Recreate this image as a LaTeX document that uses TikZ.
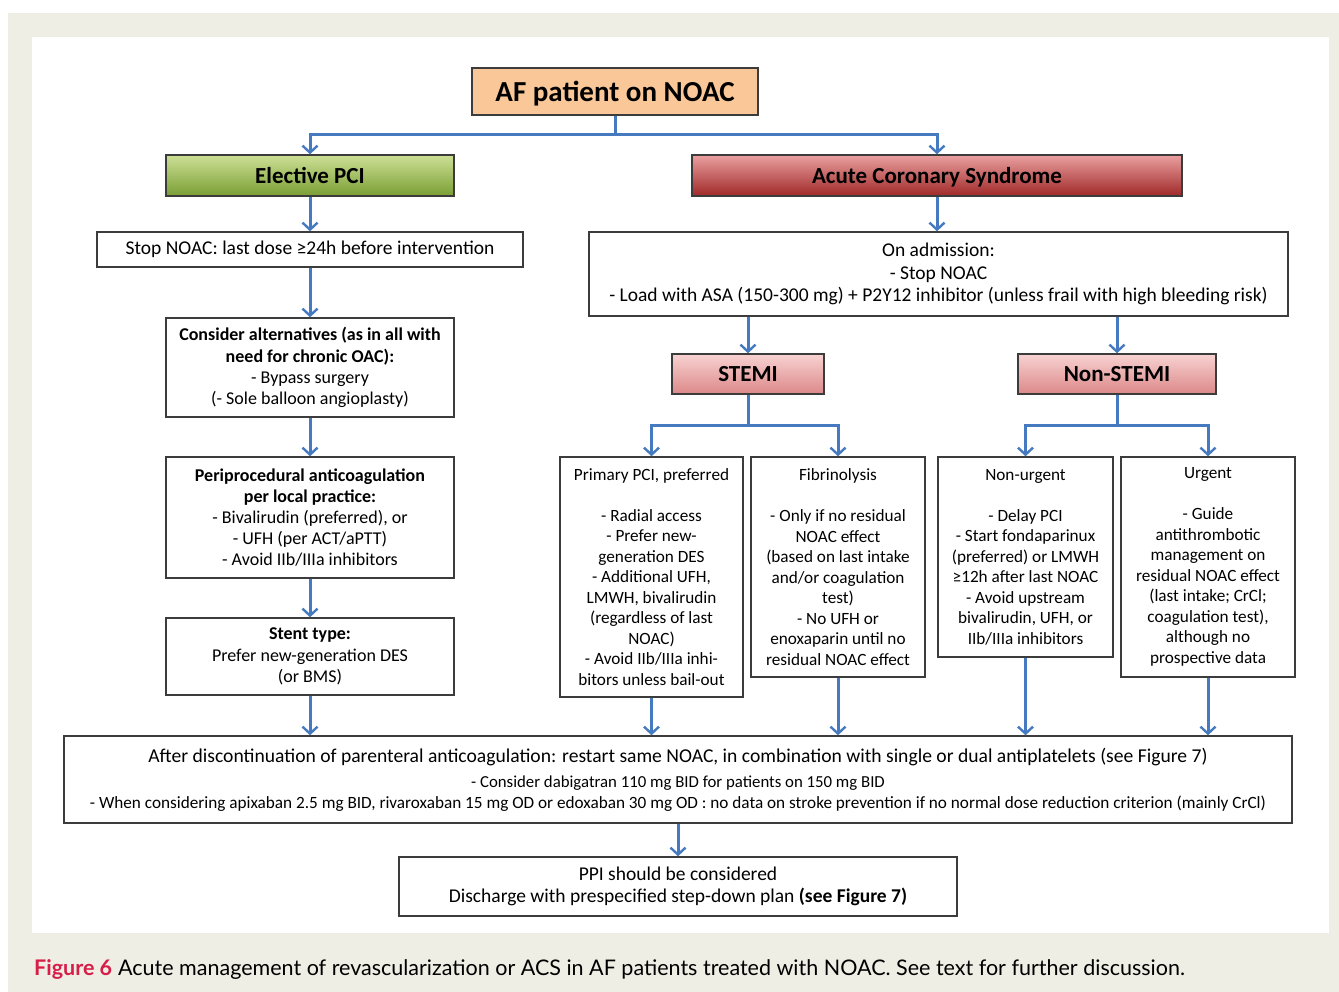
\documentclass[tikz,border=0pt]{standalone}
\usepackage{fontspec}
\setmainfont{Carlito}
\newfontfamily\capfont{Lato}
\usetikzlibrary{arrows.meta}
\definecolor{arrowblue}{RGB}{70,122,192}
\definecolor{pagebeige}{RGB}{239,238,228}
\definecolor{boxline}{RGB}{60,60,60}
\definecolor{figred}{RGB}{214,30,72}
\newcommand{\bodyfont}{\fontsize{17.2}{20.5}\selectfont}
\newcommand{\leftfont}{\fontsize{18}{21.2}\selectfont}
\newcommand{\bigfont}{\fontsize{19.5}{22.5}\selectfont}

\begin{document}
\begin{tikzpicture}[x=1pt,y=-1pt,
    textbox/.style ={draw=boxline, line width=1.4pt, fill=white, inner sep=0pt,
                     align=center, font=\bodyfont},
    headbox/.style ={draw=boxline, line width=1.4pt, inner sep=0pt, text depth=0pt,
                     font=\fontsize{23}{27}\selectfont\bfseries},
    flow/.style ={draw=arrowblue, line width=3pt},
    flowarrow/.style ={flow, -{Straight Barb[length=7pt,width=15pt,line width=2.4pt]}}]
   \useasboundingbox (0,0) rectangle (1339,992);
   \fill[pagebeige] (8,13) rectangle (1339,992);
   \fill[white] (32,37) rectangle (1329,933);

   \node[headbox, fill={rgb,255:red,250;green,200;blue,152}, minimum width=286, minimum height=47,
         font=\fontsize{29}{33}\selectfont\bfseries] (AF) at (615,91.5) {AF patient on NOAC};
   \node[headbox, top color={rgb,255:red,205;green,224;blue,150}, bottom color={rgb,255:red,122;green,158;blue,52},
         minimum width=288, minimum height=41] (PCI) at (310,175.5) {Elective PCI};
   \node[headbox, top color={rgb,255:red,234;green,160;blue,160}, bottom color={rgb,255:red,160;green,40;blue,40},
         minimum width=490, minimum height=41] (ACS) at (937,175.5) {Acute Coronary Syndrome};

   \node[textbox, minimum width=426, minimum height=35, font=\bigfont] (Stop) at (310,249.5)
     {Stop NOAC: last dose ≥24h before intervention};
   \node[textbox, minimum width=288, minimum height=99, font=\leftfont] (Alt) at (310,367.5)
     {\textbf{Consider alternatives (as in all with}\\\textbf{need for chronic OAC):}\\- Bypass surgery\\(- Sole balloon angioplasty)};
   \node[textbox, minimum width=288, minimum height=121, font=\leftfont] (Peri) at (310,517.5)
     {\textbf{Periprocedural anticoagulation}\\\textbf{per local practice:}\\- Bivalirudin (preferred), or\\- UFH (per ACT/aPTT)\\- Avoid IIb/IIIa inhibitors};
   \node[textbox, minimum width=288, minimum height=77, font=\leftfont] (Stent) at (310,656.5)
     {\textbf{Stent type:}\\Prefer new-generation DES\\(or BMS)};

   \node[textbox, minimum width=699, minimum height=84, font=\bigfont] (Adm) at (938.5,274)
     {On admission:\\- Stop NOAC\\- Load with ASA (150-300 mg) + P2Y12 inhibitor (unless frail with high bleeding risk)};
   \node[headbox, top color={rgb,255:red,248;green,210;blue,210}, bottom color={rgb,255:red,220;green,136;blue,136},
         minimum width=152, minimum height=40] (STEMI) at (748,374) {STEMI};
   \node[headbox, top color={rgb,255:red,248;green,210;blue,210}, bottom color={rgb,255:red,220;green,136;blue,136},
         minimum width=198, minimum height=40] (NSTEMI) at (1117,374) {Non-STEMI};

   \node[textbox, minimum width=183, minimum height=240] (Prim) at (651.5,577)
     {Primary PCI, preferred\\[20.5pt]- Radial access\\- Prefer new-\\generation DES\\- Additional UFH,\\LMWH, bivalirudin\\(regardless of last\\NOAC)\\- Avoid IIb/IIIa inhi-\\bitors unless bail-out};
   \node[textbox, minimum width=174, minimum height=220] (Fib) at (838,567)
     {Fibrinolysis\\[20.5pt]- Only if no residual\\NOAC effect\\(based on last intake\\and/or coagulation\\test)\\- No UFH or\\enoxaparin until no\\residual NOAC effect};
   \node[textbox, minimum width=175, minimum height=200] (NonUrg) at (1025.5,557)
     {Non-urgent\\[20.5pt]- Delay PCI\\- Start fondaparinux\\(preferred) or LMWH\\≥12h after last NOAC\\- Avoid upstream\\bivalirudin, UFH, or\\IIb/IIIa inhibitors};
   \node[textbox, minimum width=174, minimum height=220] (Urg) at (1208,567)
     {Urgent\\[20.5pt]- Guide\\antithrombotic\\management on\\residual NOAC effect\\(last intake; CrCl;\\coagulation test),\\although no\\prospective data};

   \node[textbox, minimum width=1228, minimum height=87] (Restart) at (678,779.5)
     {\fontsize{19.6}{23}\selectfont After discontinuation of parenteral anticoagulation: restart same NOAC, in combination with single or dual antiplatelets (see Figure 7)\\[5pt]
      \fontsize{16.8}{21}\selectfont - Consider dabigatran 110 mg BID for patients on 150 mg BID\\
      \fontsize{17.2}{21}\selectfont - When considering apixaban 2.5 mg BID, rivaroxaban 15 mg OD or edoxaban 30 mg OD : no data on stroke prevention if no normal dose reduction criterion (mainly CrCl)};
   \node[textbox, minimum width=558, minimum height=59, font=\bigfont] (PPI) at (678,886.5)
     {PPI should be considered\\Discharge with prespecified step-down plan \textbf{(see Figure 7)}};

   \node[anchor=base west, inner sep=0pt, font=\capfont\fontsize{21.5}{26}\selectfont] (Cap) at (34,975)
     {\textcolor{figred}{\textbf{Figure 6}}\hspace{6pt}Acute management of revascularization or ACS in AF patients treated with NOAC. See text for further discussion.};

   \coordinate (J1) at (615,135);
   \coordinate (J2) at (748,425);
   \coordinate (J3) at (1117,425);

   \draw[flow] (AF) to (J1);
   \draw[flowarrow] (J1) -| (PCI);
   \draw[flowarrow] (J1) -| (ACS);
   \draw[flowarrow] (PCI) to (Stop);
   \draw[flowarrow] (Stop) to (Alt);
   \draw[flowarrow] (Alt) to (Peri);
   \draw[flowarrow] (Peri) to (Stent);
   \draw[flowarrow] (ACS) to (ACS |- Adm.north);
   \draw[flowarrow] (Adm.south -| STEMI) to (STEMI);
   \draw[flowarrow] (Adm.south -| NSTEMI) to (NSTEMI);
   \draw[flow] (STEMI) to (J2);
   \draw[flowarrow] (J2) -| (Prim);
   \draw[flowarrow] (J2) -| (Fib);
   \draw[flow] (NSTEMI) to (J3);
   \draw[flowarrow] (J3) -| (NonUrg);
   \draw[flowarrow] (J3) -| (Urg);
   \draw[flowarrow] (Stent) to (Stent |- Restart.north);
   \draw[flowarrow] (Prim) to (Prim |- Restart.north);
   \draw[flowarrow] (Fib) to (Fib |- Restart.north);
   \draw[flowarrow] (NonUrg) to (NonUrg |- Restart.north);
   \draw[flowarrow] (Urg) to (Urg |- Restart.north);
   \draw[flowarrow] (Restart) to (PPI);
 \end{tikzpicture}
\end{document}
